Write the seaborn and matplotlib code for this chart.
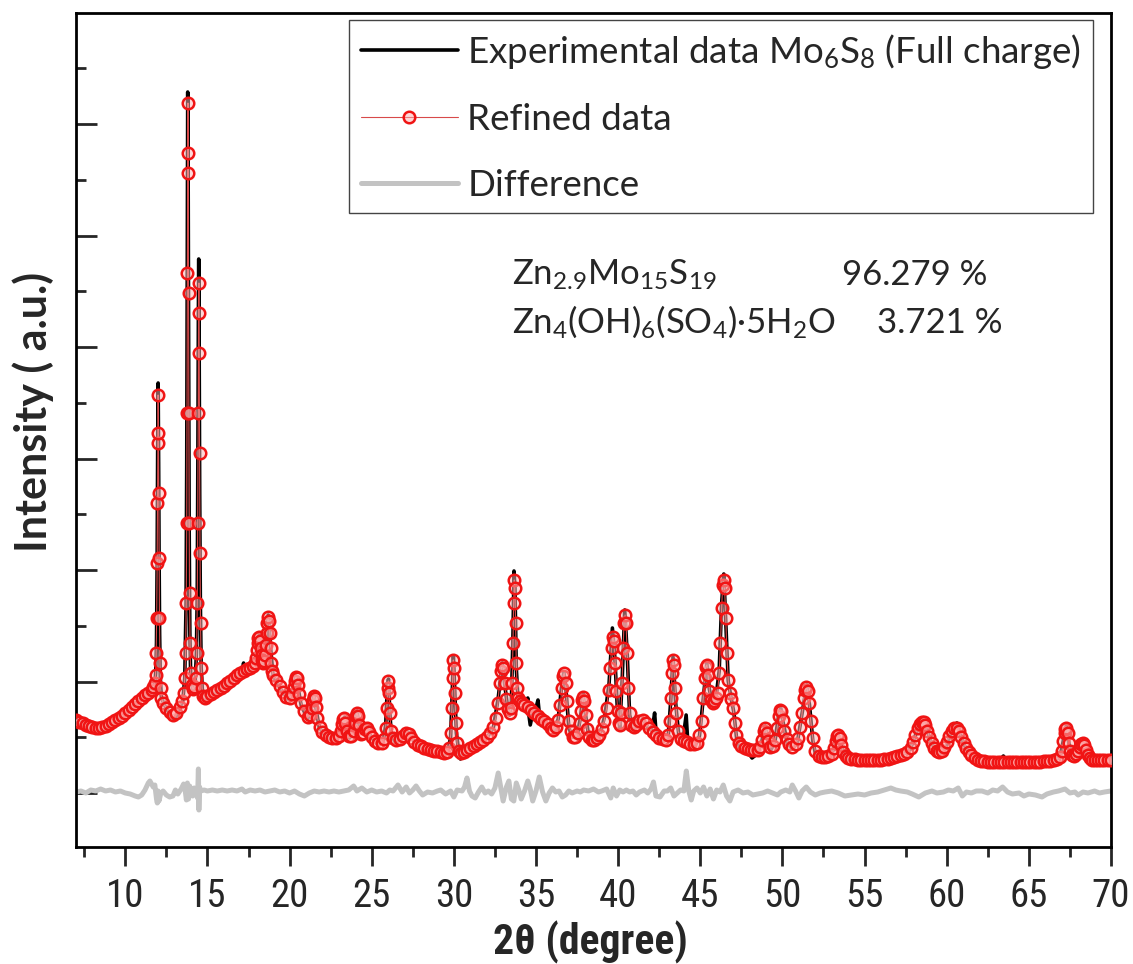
import matplotlib
matplotlib.use("Agg")
import matplotlib.pyplot as plt
from matplotlib import font_manager as fm
from matplotlib.ticker import MultipleLocator
import seaborn as sns

# ---------------- data (2theta in degree, intensity in a.u.) ----------------
experimental_points = [
    (7.0, 72), (7.5, 69), (8.0, 64), (8.3, 62), (8.6, 64), (9.0, 68), (9.5, 74), (9.9, 78),
    (10.4, 86), (10.9, 94), (11.4, 100), (11.7, 105), (11.8, 110), (11.85, 120), (11.9, 150),
    (11.94, 235), (11.97, 340), (12.0, 410), (12.03, 330), (12.06, 230), (12.09, 160), (12.13, 115),
    (12.2, 95), (12.5, 84), (12.8, 76), (13.0, 74), (13.2, 80), (13.5, 92), (13.62, 115), (13.7, 190),
    (13.74, 330), (13.77, 530), (13.8, 701), (13.83, 600), (13.86, 420), (13.89, 260), (13.93, 160),
    (13.98, 118), (14.1, 103), (14.25, 110), (14.33, 140), (14.38, 200), (14.42, 340), (14.45, 480),
    (14.47, 534), (14.5, 430), (14.53, 300), (14.57, 190), (14.62, 125), (14.7, 100), (14.85, 93),
    (15.3, 99), (15.8, 104), (16.3, 110), (16.8, 117), (17.1, 121), (17.2, 130), (17.28, 120),
    (17.6, 124), (17.9, 130), (18.0, 142), (18.15, 158), (18.3, 137), (18.4, 130), (18.55, 150),
    (18.7, 178), (18.85, 144), (19.0, 117), (19.5, 103), (19.9, 94), (20.1, 97), (20.25, 108),
    (20.38, 117), (20.5, 107), (20.7, 88), (21.1, 74), (21.3, 84), (21.48, 98), (21.6, 85), (21.8, 66),
    (22.2, 56), (22.5, 54), (22.8, 54), (23.1, 59), (23.28, 73), (23.34, 76), (23.45, 64), (23.65, 55),
    (23.9, 63), (24.1, 82), (24.3, 62), (24.5, 60), (24.7, 66), (25.0, 55), (25.4, 48), (25.7, 52),
    (25.85, 68), (25.95, 105), (26.02, 114), (26.1, 80), (26.2, 58), (26.45, 50), (26.7, 55),
    (27.1, 62), (27.25, 60), (27.4, 55), (27.7, 50), (28.0, 46), (28.4, 42), (28.6, 38), (28.8, 40),
    (29.0, 40), (29.3, 37), (29.6, 40), (29.8, 55), (29.9, 100), (29.97, 137), (30.05, 105),
    (30.15, 60), (30.3, 42), (30.4, 34), (30.55, 40), (30.8, 44), (31.2, 46), (31.4, 48), (31.6, 55),
    (31.8, 50), (32.0, 55), (32.4, 65), (32.7, 95), (32.94, 130), (33.1, 108), (33.3, 82), (33.4, 78),
    (33.5, 90), (33.6, 160), (33.66, 222), (33.72, 205), (33.8, 125), (33.9, 95), (34.1, 92),
    (34.3, 87), (34.45, 92), (34.5, 95), (34.55, 80), (34.65, 68), (34.8, 80), (35.0, 85), (35.12, 93),
    (35.2, 80), (35.35, 73), (35.6, 70), (35.9, 64), (36.1, 62), (36.35, 74), (36.55, 105), (36.7, 121),
    (36.85, 98), (37.0, 65), (37.2, 56), (37.5, 57), (37.7, 75), (37.87, 99), (38.0, 80), (38.2, 58),
    (38.35, 50), (38.6, 52), (38.9, 59), (39.2, 78), (39.45, 110), (39.65, 165), (39.8, 135),
    (39.95, 85), (40.1, 65), (40.25, 115), (40.4, 183), (40.55, 140), (40.7, 78), (40.9, 64),
    (41.2, 69), (41.5, 74), (41.8, 66), (42.0, 63), (42.15, 72), (42.22, 80), (42.3, 62), (42.5, 53),
    (42.8, 52), (43.05, 57), (43.2, 92), (43.34, 136), (43.5, 90), (43.7, 56), (43.95, 54),
    (44.08, 70), (44.14, 78), (44.22, 56), (44.4, 48), (44.7, 48), (44.95, 57), (45.2, 98),
    (45.4, 130), (45.55, 104), (45.75, 89), (45.95, 95), (46.15, 122), (46.3, 190), (46.43, 219),
    (46.55, 172), (46.7, 112), (46.9, 93), (47.05, 80), (47.2, 56), (47.4, 44), (47.7, 41),
    (47.95, 40), (48.15, 35), (48.3, 37), (48.5, 40), (48.75, 52), (48.96, 67), (49.15, 50),
    (49.3, 43), (49.55, 52), (49.75, 76), (49.9, 85), (50.05, 70), (50.3, 50), (50.6, 44), (50.9, 50),
    (51.2, 80), (51.48, 108), (51.65, 88), (51.85, 52), (52.0, 40), (52.3, 34), (52.6, 33), (52.9, 36),
    (53.15, 45), (53.4, 59), (53.6, 46), (53.85, 34), (54.1, 33), (54.4, 31), (54.8, 30), (55.2, 31),
    (55.5, 33), (55.8, 35), (56.0, 36), (56.3, 35), (56.7, 34), (57.0, 37), (57.4, 39), (57.8, 44),
    (58.1, 58), (58.4, 71), (58.55, 73), (58.75, 66), (59.0, 53), (59.3, 43), (59.6, 39), (59.9, 44),
    (60.2, 57), (60.45, 67), (60.62, 70), (60.8, 60), (61.1, 47), (61.4, 39), (61.8, 33), (62.2, 30),
    (62.6, 29), (63.0, 30), (63.3, 34), (63.45, 37), (63.6, 32), (64.0, 30), (64.5, 29), (65.0, 30),
    (65.5, 31), (66.0, 31), (66.5, 32), (66.9, 36), (67.1, 53), (67.27, 67), (67.45, 48), (67.65, 35),
    (67.9, 40), (68.1, 45), (68.28, 51), (68.45, 42), (68.7, 33), (69.0, 31), (69.4, 33), (69.8, 34),
    (70.0, 35),
]

refined_points = [
    (7.0, 73), (7.2, 71), (7.4, 70), (7.6, 68), (7.8, 67), (8.0, 66), (8.2, 65), (8.4, 65), (8.6, 66),
    (8.8, 67), (9.0, 69), (9.2, 71), (9.4, 73), (9.6, 75), (9.8, 77), (10.0, 80), (10.2, 83),
    (10.4, 86), (10.6, 89), (10.8, 92), (11.0, 95), (11.2, 98), (11.4, 100), (11.6, 103), (11.7, 106),
    (11.8, 110), (11.84, 118), (11.88, 140), (11.91, 175), (11.94, 230), (11.96, 290), (11.98, 350),
    (12.0, 398), (12.02, 360), (12.04, 300), (12.06, 235), (12.08, 175), (12.11, 130), (12.15, 105),
    (12.2, 95), (12.3, 90), (12.5, 85), (12.7, 81), (12.9, 78), (13.1, 80), (13.3, 86), (13.45, 92),
    (13.55, 100), (13.62, 115), (13.67, 140), (13.71, 190), (13.74, 270), (13.76, 380), (13.78, 520),
    (13.8, 640), (13.815, 690), (13.83, 620), (13.85, 500), (13.87, 380), (13.89, 270), (13.91, 200),
    (13.94, 150), (13.98, 120), (14.04, 108), (14.12, 104), (14.2, 106), (14.28, 115), (14.34, 140),
    (14.38, 190), (14.41, 270), (14.44, 380), (14.46, 480), (14.48, 510), (14.5, 440), (14.52, 340),
    (14.55, 240), (14.58, 170), (14.62, 125), (14.68, 105), (14.75, 97), (14.85, 95), (15.0, 97),
    (15.2, 99), (15.4, 101), (15.6, 103), (15.8, 105), (16.0, 107), (16.2, 110), (16.4, 112),
    (16.6, 115), (16.8, 118), (17.0, 120), (17.2, 122), (17.4, 124), (17.6, 125), (17.8, 127),
    (17.9, 130), (17.95, 135), (18.0, 143), (18.05, 150), (18.1, 155), (18.15, 156), (18.2, 152),
    (18.25, 145), (18.3, 138), (18.35, 133), (18.4, 130), (18.45, 132), (18.5, 138), (18.55, 148),
    (18.6, 160), (18.65, 170), (18.7, 176), (18.75, 172), (18.8, 160), (18.85, 145), (18.9, 130),
    (18.95, 122), (19.0, 118), (19.2, 113), (19.4, 107), (19.6, 101), (19.8, 96), (20.0, 95),
    (20.15, 99), (20.25, 106), (20.32, 112), (20.38, 116), (20.44, 115), (20.5, 108), (20.58, 99),
    (20.7, 90), (20.9, 82), (21.1, 76), (21.25, 78), (21.35, 85), (21.42, 93), (21.48, 97),
    (21.54, 95), (21.6, 86), (21.7, 75), (21.85, 66), (22.0, 61), (22.2, 58), (22.4, 56), (22.6, 55),
    (22.8, 55), (23.0, 57), (23.15, 62), (23.22, 69), (23.28, 74), (23.34, 75), (23.4, 70),
    (23.48, 62), (23.6, 57), (23.75, 57), (23.9, 62), (23.98, 70), (24.04, 77), (24.1, 80),
    (24.16, 77), (24.24, 68), (24.35, 59), (24.5, 60), (24.62, 64), (24.72, 65), (24.85, 61),
    (25.0, 56), (25.2, 52), (25.4, 50), (25.6, 50), (25.75, 54), (25.85, 65), (25.92, 85), (25.97, 105),
    (26.02, 112), (26.06, 100), (26.11, 80), (26.18, 62), (26.3, 55), (26.5, 53), (26.7, 54),
    (26.9, 57), (27.1, 60), (27.25, 59), (27.4, 55), (27.6, 51), (27.8, 48), (28.0, 47), (28.2, 45),
    (28.4, 44), (28.6, 43), (28.8, 42), (29.0, 42), (29.2, 41), (29.4, 40), (29.6, 41), (29.72, 45),
    (29.82, 60), (29.88, 85), (29.93, 115), (29.97, 133), (30.01, 125), (30.06, 100), (30.12, 70),
    (30.2, 50), (30.3, 42), (30.45, 40), (30.6, 41), (30.8, 43), (31.0, 45), (31.2, 47), (31.4, 49),
    (31.6, 51), (31.8, 53), (32.0, 56), (32.2, 60), (32.4, 66), (32.55, 75), (32.68, 90), (32.78, 110),
    (32.86, 122), (32.94, 128), (33.02, 125), (33.1, 110), (33.2, 94), (33.3, 84), (33.4, 80),
    (33.48, 85), (33.55, 110), (33.6, 150), (33.64, 190), (33.68, 213), (33.72, 205), (33.76, 170),
    (33.8, 130), (33.85, 105), (33.92, 95), (34.0, 92), (34.15, 90), (34.3, 88), (34.5, 86),
    (34.7, 83), (34.9, 80), (35.1, 77), (35.3, 74), (35.5, 72), (35.7, 69), (35.9, 65), (36.06, 63),
    (36.2, 66), (36.35, 73), (36.48, 88), (36.58, 105), (36.65, 117), (36.72, 120), (36.8, 110),
    (36.88, 92), (36.98, 72), (37.1, 62), (37.25, 56), (37.4, 56), (37.55, 60), (37.68, 70),
    (37.76, 82), (37.83, 93), (37.88, 96), (37.94, 92), (38.02, 78), (38.12, 64), (38.25, 56),
    (38.4, 53), (38.55, 53), (38.7, 55), (38.85, 58), (39.0, 64), (39.15, 72), (39.3, 85), (39.42, 103),
    (39.52, 125), (39.6, 145), (39.67, 156), (39.74, 152), (39.82, 130), (39.9, 102), (39.97, 82),
    (40.04, 70), (40.1, 68), (40.17, 80), (40.24, 110), (40.3, 145), (40.36, 170), (40.42, 178),
    (40.48, 170), (40.55, 140), (40.62, 105), (40.7, 80), (40.8, 68), (40.95, 66), (41.1, 68),
    (41.3, 72), (41.5, 73), (41.7, 70), (41.9, 65), (42.1, 61), (42.3, 58), (42.5, 55), (42.7, 54),
    (42.9, 53), (43.05, 58), (43.15, 72), (43.22, 95), (43.28, 120), (43.34, 133), (43.4, 128),
    (43.47, 105), (43.55, 80), (43.65, 62), (43.8, 54), (44.0, 52), (44.2, 51), (44.4, 49), (44.6, 49),
    (44.8, 50), (44.95, 58), (45.08, 72), (45.18, 95), (45.26, 115), (45.33, 126), (45.4, 128),
    (45.48, 118), (45.56, 102), (45.65, 93), (45.75, 90), (45.85, 92), (45.95, 95), (46.05, 100),
    (46.15, 120), (46.23, 150), (46.3, 185), (46.36, 208), (46.42, 213), (46.48, 205), (46.55, 175),
    (46.62, 140), (46.7, 113), (46.8, 100), (46.9, 94), (47.0, 85), (47.1, 70), (47.2, 58),
    (47.35, 50), (47.5, 47), (47.7, 45), (47.9, 44), (48.1, 43), (48.3, 43), (48.5, 43), (48.65, 46),
    (48.78, 53), (48.88, 62), (48.96, 65), (49.04, 60), (49.12, 52), (49.25, 46), (49.4, 47),
    (49.55, 53), (49.68, 65), (49.78, 77), (49.86, 83), (49.94, 82), (50.02, 73), (50.12, 62),
    (50.25, 54), (50.4, 49), (50.6, 46), (50.8, 49), (50.95, 55), (51.08, 66), (51.2, 80), (51.3, 95),
    (51.38, 103), (51.46, 106), (51.54, 102), (51.62, 90), (51.72, 72), (51.85, 55), (52.0, 42),
    (52.2, 37), (52.4, 36), (52.6, 36), (52.8, 37), (53.0, 39), (53.15, 45), (53.25, 52), (53.33, 57),
    (53.4, 58), (53.48, 55), (53.58, 48), (53.7, 41), (53.85, 37), (54.0, 35), (54.2, 34), (54.4, 34),
    (54.6, 33), (54.8, 33), (55.0, 33), (55.2, 33), (55.4, 33), (55.6, 33), (55.8, 33), (56.0, 33),
    (56.2, 34), (56.4, 34), (56.6, 35), (56.8, 36), (57.0, 37), (57.2, 38), (57.4, 39), (57.6, 41),
    (57.8, 45), (57.95, 51), (58.1, 58), (58.25, 65), (58.4, 69), (58.5, 71), (58.6, 71), (58.7, 68),
    (58.82, 62), (58.95, 56), (59.1, 50), (59.25, 45), (59.4, 42), (59.55, 41), (59.7, 42),
    (59.85, 46), (60.0, 51), (60.15, 57), (60.3, 62), (60.45, 65), (60.6, 65), (60.75, 62), (60.9, 56),
    (61.05, 50), (61.2, 45), (61.35, 41), (61.5, 38), (61.7, 35), (61.9, 33), (62.1, 32), (62.3, 32),
    (62.5, 31), (62.7, 31), (62.9, 31), (63.1, 31), (63.3, 31), (63.5, 31), (63.7, 31), (63.9, 31),
    (64.1, 31), (64.3, 31), (64.5, 31), (64.7, 31), (64.9, 31), (65.1, 31), (65.3, 31), (65.5, 31),
    (65.7, 31), (65.9, 32), (66.1, 32), (66.3, 32), (66.5, 33), (66.7, 34), (66.9, 36), (67.02, 42),
    (67.1, 52), (67.17, 60), (67.23, 64), (67.29, 65), (67.36, 60), (67.44, 50), (67.52, 42),
    (67.62, 38), (67.72, 37), (67.85, 39), (67.98, 42), (68.1, 46), (68.2, 49), (68.28, 50),
    (68.36, 48), (68.46, 43), (68.58, 38), (68.7, 35), (68.85, 33), (69.0, 33), (69.2, 33), (69.4, 33),
    (69.6, 33), (69.8, 33), (70.0, 33),
]

difference_points = [
    (7.0, 1), (7.3, 2), (7.6, 0), (7.9, 3), (8.2, 2), (8.5, 4), (8.8, 2), (9.1, 3), (9.4, 1), (9.7, 2),
    (10.0, 0), (10.3, -1), (10.6, -3), (10.8, -4), (11.0, -2), (11.2, 3), (11.4, 10), (11.5, 12),
    (11.6, 9), (11.7, 6), (11.8, 8), (11.9, -6), (11.95, -10), (12.0, 2), (12.05, -8), (12.15, -1),
    (12.3, 2), (12.5, -2), (12.7, -4), (12.9, -3), (13.05, 3), (13.2, -1), (13.4, 4), (13.55, 9),
    (13.65, 2), (13.72, -7), (13.78, 10), (13.85, -6), (13.92, 7), (14.0, 2), (14.1, -3), (14.2, 5),
    (14.3, 0), (14.4, -5), (14.45, 24), (14.48, -17), (14.52, 6), (14.6, 2), (14.8, 3), (15.0, 2),
    (15.3, 3), (15.6, 2), (15.9, 3), (16.2, 2), (16.5, 3), (16.8, 2), (17.1, 4), (17.3, 1), (17.6, 3),
    (17.9, 2), (18.2, 3), (18.5, 1), (18.8, 2), (19.1, 3), (19.4, 1), (19.7, 2), (20.0, 0), (20.3, 2),
    (20.6, -1), (20.9, -3), (21.2, 0), (21.5, 2), (21.8, 1), (22.1, 2), (22.4, 1), (22.7, 2),
    (23.0, 1), (23.3, 2), (23.6, 3), (23.9, 7), (24.1, 2), (24.4, 5), (24.7, 1), (25.0, 3), (25.3, 1),
    (25.6, 2), (25.9, 0), (26.1, 3), (26.3, 2), (26.6, 8), (26.85, 1), (27.1, 6), (27.3, 0), (27.5, 3),
    (27.7, 7), (27.9, 2), (28.1, -2), (28.4, 1), (28.7, 0), (29.0, 2), (29.2, 3), (29.5, -1),
    (29.8, 2), (30.0, -4), (30.2, 3), (30.5, 2), (30.65, 6), (30.8, 15), (30.95, 2), (31.1, -3),
    (31.3, -5), (31.5, 1), (31.7, 6), (31.9, 0), (32.1, 2), (32.3, -1), (32.5, 5), (32.7, 20),
    (32.85, 6), (33.0, -8), (33.2, 6), (33.35, 12), (33.5, -6), (33.65, -8), (33.8, 10), (33.95, 3),
    (34.1, -6), (34.3, 2), (34.5, 12), (34.65, 4), (34.8, -8), (35.0, 2), (35.2, 16), (35.4, 1),
    (35.6, -8), (35.8, 0), (36.0, 5), (36.2, 1), (36.4, 2), (36.6, -4), (36.8, -2), (37.0, 2),
    (37.2, 0), (37.5, 2), (37.7, 1), (37.9, 3), (38.2, 2), (38.5, 4), (38.8, 1), (39.0, 2), (39.3, 4),
    (39.55, -5), (39.7, 5), (39.9, -3), (40.1, 3), (40.3, 1), (40.5, 3), (40.7, 1), (40.9, 2),
    (41.1, -2), (41.3, 1), (41.6, 3), (41.8, 0), (42.0, 4), (42.15, 11), (42.3, -3), (42.55, -4),
    (42.8, 2), (43.0, 2), (43.2, 5), (43.4, -3), (43.6, 0), (43.8, 3), (44.0, 2), (44.15, 22),
    (44.3, 2), (44.45, -7), (44.6, 2), (44.8, 5), (45.0, 0), (45.2, 6), (45.4, -3), (45.6, 4),
    (45.8, -6), (46.0, 3), (46.2, 1), (46.4, 8), (46.6, -3), (46.8, -8), (47.0, 1), (47.3, 3),
    (47.6, 0), (47.9, 1), (48.2, -2), (48.5, -1), (48.8, 0), (49.1, 2), (49.4, 0), (49.7, -2),
    (49.9, 1), (50.2, 3), (50.45, 1), (50.6, 8), (50.8, 2), (51.0, -5), (51.2, 2), (51.45, 6),
    (51.7, 1), (52.0, -2), (52.3, 0), (52.6, 1), (53.0, 2), (53.4, 0), (53.8, -3), (54.2, -2),
    (54.6, -1), (55.0, -2), (55.4, 0), (55.8, 1), (56.2, 3), (56.6, 5), (56.9, 3), (57.2, 2),
    (57.6, 1), (57.9, -1), (58.3, -4), (58.7, 0), (59.1, 2), (59.4, 0), (59.8, 1), (60.1, 3),
    (60.4, 2), (60.7, 5), (60.95, -3), (61.2, 1), (61.5, 0), (61.8, 2), (62.15, 2), (62.5, 0),
    (62.8, 3), (63.1, 2), (63.4, 6), (63.7, 1), (64.0, -1), (64.4, 0), (64.7, -3), (65.0, -1),
    (65.4, -2), (65.8, -4), (66.1, -1), (66.5, 1), (66.8, 2), (67.2, 4), (67.5, 0), (67.8, 1),
    (68.0, -2), (68.3, 1), (68.6, 0), (69.0, 2), (69.3, 0), (69.6, 1), (70.0, 2),
]

series_labels = ["Experimental data Mo$_{6}$S$_{8}$ (Full charge)", "Refined data", "Difference"]
phase_names = ["Zn$_{2.9}$Mo$_{15}$S$_{19}$", "Zn$_{4}$(OH)$_{6}$(SO$_{4}$)\u00b75H$_{2}$O"]
phase_fractions = ["96.279 %", "3.721 %"]
x_ticks = [10, 15, 20, 25, 30, 35, 40, 45, 50, 55, 60, 65, 70]


# ---------------- fonts: pick a narrow sans for the x axis if one is installed ----------------
def _weight(f):
    w = f.weight
    if isinstance(w, str):
        return fm.weight_dict.get(w, 400)
    return w


def narrow_font(bold, size):
    prefs = ["Liberation Sans Narrow", "Arial Narrow", "Roboto Condensed", "Open Sans Condensed",
             "Noto Sans Condensed", "DejaVu Sans Condensed"]
    entries = [f for f in fm.fontManager.ttflist if f.style == "normal"]

    def ok_weight(f):
        return (_weight(f) >= 600) if bold else (350 <= _weight(f) < 600)

    for name in prefs:
        for f in entries:
            if f.name == name and ok_weight(f):
                return fm.FontProperties(fname=f.fname, size=size)
    for f in entries:
        low = f.fname.lower()
        if (("condensed" in str(f.stretch) or "condensed" in low or "narrow" in low)
                and "extra" not in low and "semi" not in low and ok_weight(f)
                and ("sans" in f.name.lower() or "roboto" in f.name.lower())):
            return fm.FontProperties(fname=f.fname, size=size)
    return fm.FontProperties(family=["Roboto", "DejaVu Sans"],
                             weight="bold" if bold else "normal", size=size)


# ---------------- style ----------------
sns.set_style("white")
plt.rcParams["font.family"] = ["Lato", "DejaVu Sans"]
plt.rcParams["mathtext.fontset"] = "custom"
plt.rcParams["mathtext.rm"] = "Lato"
plt.rcParams["mathtext.it"] = "Lato:italic"
plt.rcParams["mathtext.bf"] = "Lato:bold"

fig = plt.figure(figsize=(11.33, 9.64), dpi=100)
ax = fig.add_axes([76 / 1133, 1 - 847 / 964, 1035 / 1133, 834 / 964])

ex, ey = zip(*experimental_points)
rx, ry = zip(*refined_points)
dx, dy = zip(*difference_points)

sns.lineplot(x=list(ex), y=list(ey), ax=ax, color="black", linewidth=2.6,
             sort=False, estimator=None, label=series_labels[0], zorder=2)
sns.lineplot(x=list(rx), y=list(ry), ax=ax, color="#d84a4a", linewidth=0.8,
             marker="o", markersize=8.3, markerfacecolor=(1.0, 0.7, 0.7, 0.5),
             markeredgecolor="#f01414", markeredgewidth=1.8,
             sort=False, estimator=None, label=series_labels[1], zorder=3)
sns.lineplot(x=list(dx), y=list(dy), ax=ax, color="#c3c3c3", linewidth=3.6,
             sort=False, estimator=None, label=series_labels[2], zorder=2)

ax.set_xlim(7, 70)
ax.set_ylim(-54, 780)
ax.set_xticks(x_ticks)
ax.set_xticklabels([str(t) for t in x_ticks])
tick_fp = narrow_font(False, 28)
for lab in ax.get_xticklabels():
    lab.set_fontproperties(tick_fp)
ax.xaxis.set_minor_locator(MultipleLocator(2.5))
ax.yaxis.set_major_locator(MultipleLocator(111.5))
ax.yaxis.set_minor_locator(MultipleLocator(55.75))
ax.tick_params(axis="x", which="major", direction="out", length=14, width=2, pad=8,
               bottom=True, top=False)
ax.tick_params(axis="x", which="minor", direction="out", length=7, width=2, bottom=True, top=False)
ax.tick_params(axis="y", which="major", direction="in", length=15, width=2, left=True,
               right=False, labelleft=False)
ax.tick_params(axis="y", which="minor", direction="in", length=7, width=2, left=True, right=False)
for s in ax.spines.values():
    s.set_linewidth(2.0)
    s.set_color("black")

ax.set_xlabel("2\u03b8 (degree)", fontproperties=narrow_font(True, 30))
ax.xaxis.set_label_coords(0.497, -0.088)
ax.set_ylabel("Intensity ( a.u.)", fontweight="bold", fontsize=31)
ax.yaxis.set_label_coords(-0.021, 0.522)

leg = ax.legend(loc="upper right", bbox_to_anchor=((1093 - 76) / 1035, (847 - 20) / 834),
                borderaxespad=0, fontsize=26.5, frameon=True, fancybox=False,
                edgecolor="#444444", framealpha=1, handlelength=2.65, handletextpad=0.25,
                borderpad=0.32, labelspacing=0.88)
leg.get_frame().set_linewidth(1.0)

to_ax = lambda px, py: ((px - 76) / 1035, (847 - py) / 834)
for i, (name, frac) in enumerate(zip(phase_names, phase_fractions)):
    base_y = [285, 333][i]
    ax.text(*to_ax(512, base_y), name, transform=ax.transAxes, fontsize=25, va="baseline")
    ax.text(*to_ax([842, 877][i], base_y), frac, transform=ax.transAxes, fontsize=25,
            va="baseline")

fig.savefig("out.png", dpi=100)
